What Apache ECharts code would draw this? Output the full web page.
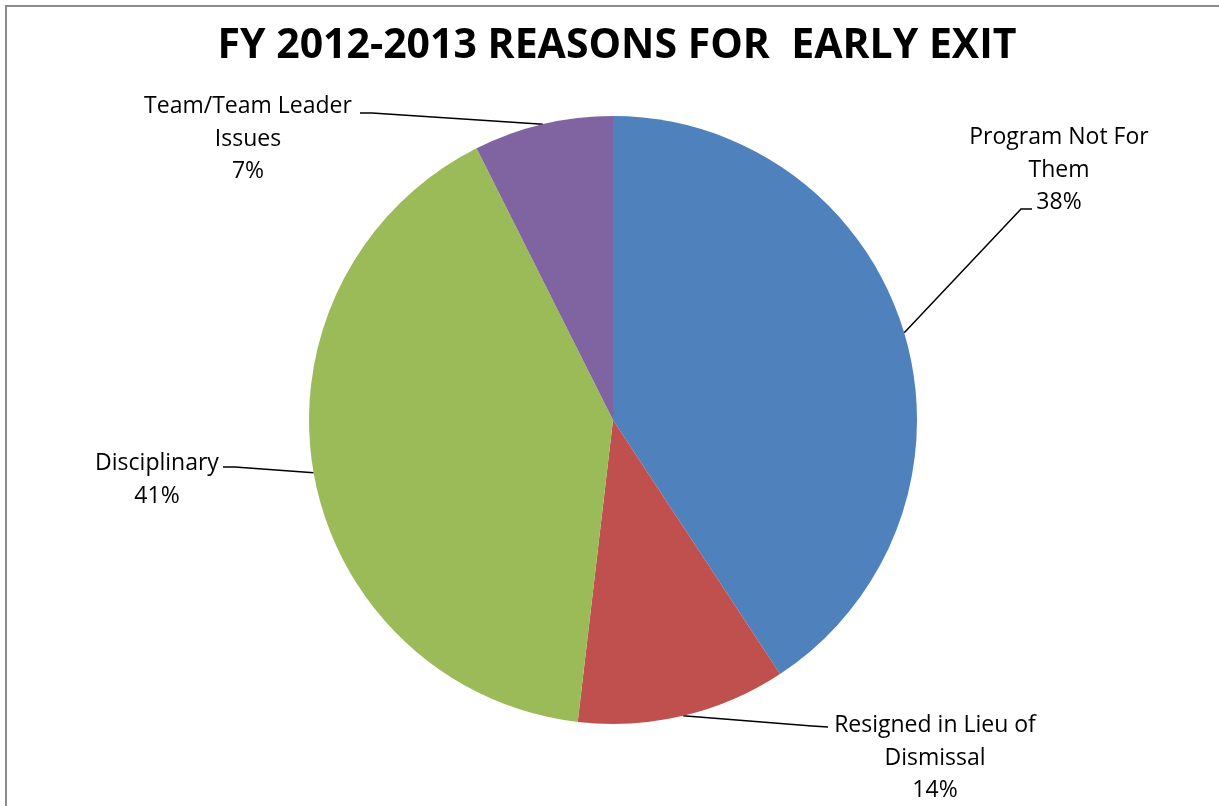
<!DOCTYPE html>
<html>
<head>
<meta charset="utf-8">
<script src="https://cdn.jsdelivr.net/npm/echarts@6/dist/echarts.min.js"></script>
<style>
html,body{margin:0;padding:0;background:#fff;}
#chart{width:1219px;height:806px;}
</style>
</head>
<body>
<div id="chart"></div>
<script>
// ---- data ----
const categories = ['Program Not For Them', 'Resigned in Lieu of Dismissal', 'Disciplinary', 'Team/Team Leader Issues'];
const labelText = ['Program Not For\nThem', 'Resigned in Lieu of\nDismissal', 'Disciplinary', 'Team/Team Leader\nIssues'];
const counts = [11, 3, 11, 2];            // slice sizes
const shownPercent = ['38%', '14%', '41%', '7%']; // percentages printed on the labels
const titleText = 'FY 2012-2013 REASONS FOR  EARLY EXIT';

// ---- style / layout ----
const colors = ['#4F81BD', '#C0504D', '#9BBB59', '#8064A2'];
const labelPos = [
  {x: 1059, y: 170, elbow: [1021, 209], end: [1032, 209]},
  {x: 935,  y: 758, elbow: [812, 726],  end: [828, 727]},
  {x: 157,  y: 480, elbow: [235, 467],  end: [223, 467]},
  {x: 248,  y: 139, elbow: [372, 113],  end: [360, 113]}
];

const chart = echarts.init(document.getElementById('chart'));
chart.setOption({
  animation: false,
  backgroundColor: '#ffffff',
  title: {
    text: titleText,
    left: 612, top: 41,
    textAlign: 'center', textVerticalAlign: 'middle',
    textStyle: {fontFamily: 'Open Sans', fontWeight: 'bold', fontSize: 41, color: '#000'}
  },
  graphic: [{
    type: 'rect', silent: true,
    shape: {x: 6, y: 6, width: 1400, height: 1000},
    style: {fill: 'none', stroke: '#8c8c8c', lineWidth: 2}
  }],
  series: [{
    type: 'pie',
    center: [613, 420],
    radius: [0, 304],
    startAngle: 90,
    clockwise: true,
    data: categories.map((c, i) => ({name: c, value: counts[i], itemStyle: {color: colors[i]}})),
    label: {
      show: true,
      position: 'outside',
      formatter: p => labelText[p.dataIndex] + '\n' + shownPercent[p.dataIndex],
      fontFamily: 'Open Sans',
      fontSize: 23,
      lineHeight: 32.5,
      color: '#000',
      align: 'center'
    },
    labelLine: {show: true, lineStyle: {color: '#000', width: 1.5}},
    labelLayout: function (params) {
      const lp = labelPos[params.dataIndex];
      const start = params.labelLinePoints ? params.labelLinePoints[0] : lp.elbow;
      return {
        x: lp.x, y: lp.y,
        align: 'center', verticalAlign: 'middle',
        labelLinePoints: [start, lp.elbow, lp.end]
      };
    },
    emphasis: {disabled: true}
  }]
});
</script>
</body>
</html>
